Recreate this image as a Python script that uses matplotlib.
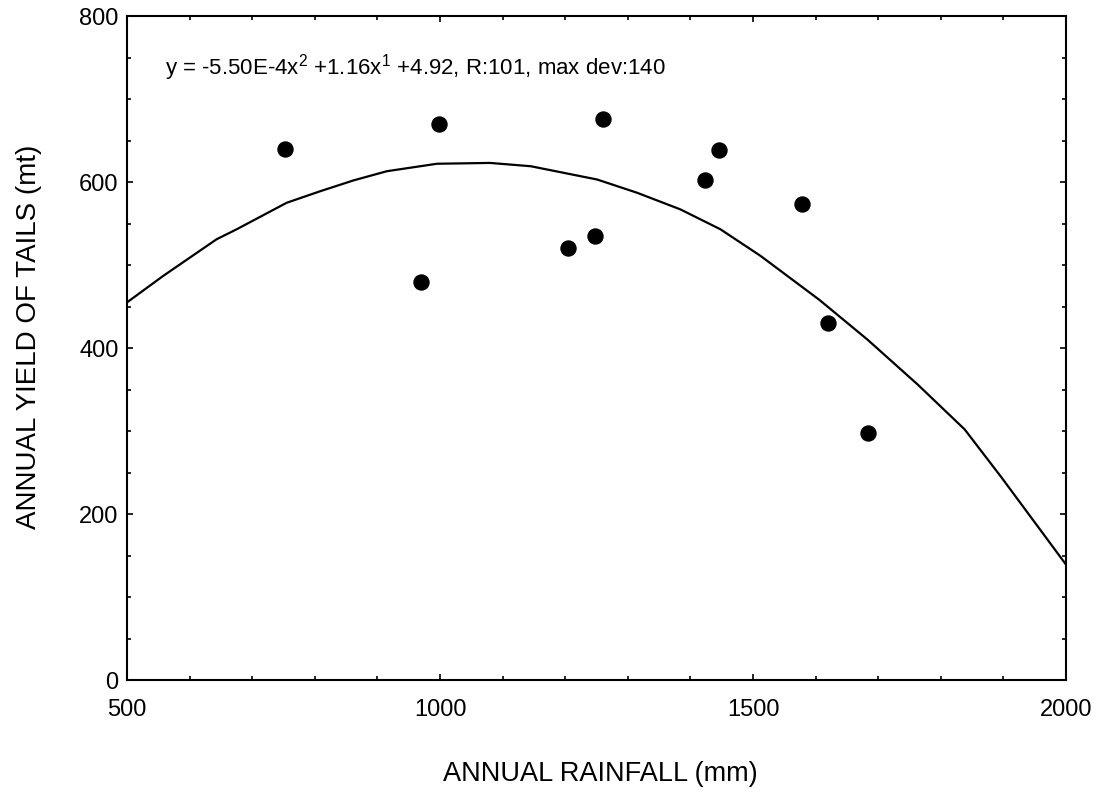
import matplotlib
matplotlib.use("Agg")
import matplotlib.pyplot as plt
from matplotlib.ticker import MultipleLocator

plt.rcParams["font.family"] = ["Liberation Sans", "DejaVu Sans"]
plt.rcParams["mathtext.fontset"] = "custom"
plt.rcParams["mathtext.rm"] = "Liberation Sans"

rainfall_mm = [753, 998, 969, 1205, 1247, 1260, 1424, 1445, 1578, 1619, 1683]
yield_mt = [640, 670, 480, 520, 535, 676, 603, 638, 574, 430, 298]

# fitted curve as drawn (piecewise)
curve_x = [500, 558, 643, 675, 755, 809, 862, 915, 995, 1080, 1145, 1251,
           1315, 1384, 1448, 1512, 1606, 1683, 1763, 1838, 1896, 2000]
curve_y = [455, 487, 531, 543, 575, 589, 602, 613, 622, 623, 619, 603,
           587, 567, 543, 511, 458, 410, 356, 302, 245, 139]

equation = r"y = -5.50E-4x$^\mathrm{2}$ +1.16x$^\mathrm{1}$ +4.92, R:101, max dev:140"

fig = plt.figure(figsize=(10.99, 7.97), dpi=100)
ax = fig.add_axes([0.1156, 0.1468, 0.8544, 0.8331])

ax.plot(curve_x, curve_y, color="black", linewidth=1.6)
ax.plot(rainfall_mm, yield_mt, "o", color="black", markersize=10.8)

ax.set_xlim(500, 2000)
ax.set_ylim(0, 800)
ax.xaxis.set_major_locator(MultipleLocator(500))
ax.xaxis.set_minor_locator(MultipleLocator(100))
ax.yaxis.set_major_locator(MultipleLocator(200))
ax.yaxis.set_minor_locator(MultipleLocator(50))

ax.tick_params(which="both", direction="in", top=True, right=True, width=1.2)
ax.tick_params(which="major", length=4, labelsize=17)
ax.tick_params(axis="x", which="major", pad=14)
ax.tick_params(axis="y", which="major", pad=6)
ax.tick_params(which="minor", length=3)
for spine in ax.spines.values():
    spine.set_linewidth(1.5)

ax.text(0.040, 0.923, equation, transform=ax.transAxes, fontsize=16, va="center")

fig.text(600 / 1099, 1 - 774 / 797, "ANNUAL RAINFALL (mm)", fontsize=19.5,
         ha="center", va="center")
fig.text(29 / 1099, 1 - 337 / 797, "ANNUAL YIELD OF TAILS (mt)", fontsize=20,
         ha="center", va="center", rotation=90)

fig.savefig("out.png", dpi=100)
